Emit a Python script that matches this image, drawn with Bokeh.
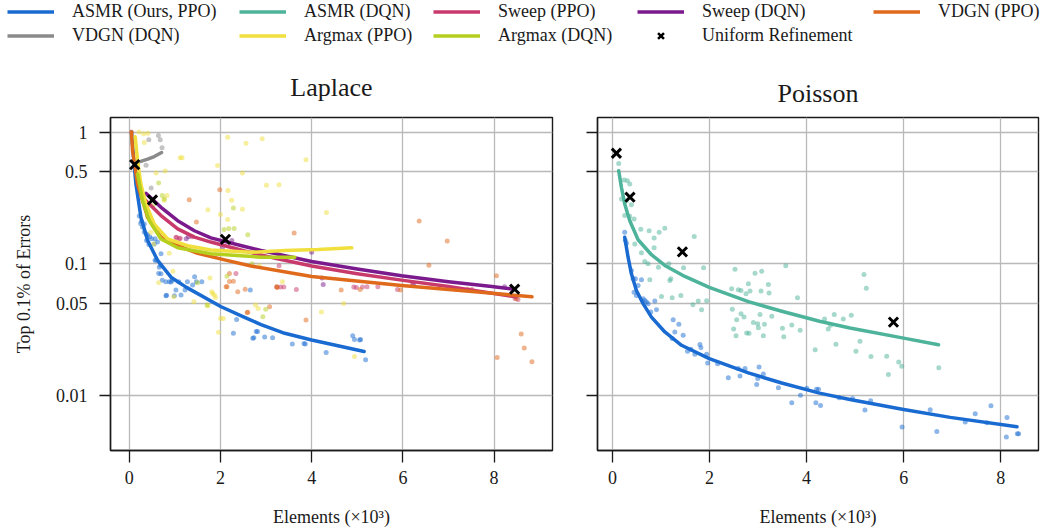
from bokeh.plotting import figure
from bokeh.models import FixedTicker, CustomJSTickFormatter, Legend, LegendItem, Range1d, Label
from bokeh.layouts import column, row
from bokeh.embed import file_html
from bokeh.resources import INLINE

FONT = "Liberation Serif"
NAN = float("nan")

# ---------------- colours ----------------
C_ASMR_PPO = "#1a6bd1"
C_ASMR_DQN = "#4db39a"
C_SWEEP_PPO = "#c83a6c"
C_SWEEP_DQN = "#7a1a8c"
C_VDGN_PPO = "#e06a1c"
C_VDGN_DQN = "#8a8a8a"
C_ARGMAX_PPO = "#f0df3c"
C_ARGMAX_DQN = "#b5cf1e"

# ---------------- axis ticks / titles ----------------
x_ticks = [0, 2, 4, 6, 8]
y_ticks = [0.01, 0.05, 0.1, 0.5, 1]
panel_titles = ["Laplace", "Poisson"]

# ================= Laplace =================
# fitted curves
lap_asmr_ppo_x = [0.05, 0.096, 0.147, 0.257, 0.404, 0.623, 0.916, 1.246, 2.015, 2.53, 2.89, 3.41, 4.0, 5.15]
lap_asmr_ppo_y = [1.0, 0.641, 0.403, 0.225, 0.150, 0.106, 0.079, 0.0664, 0.0471, 0.0391, 0.0345, 0.0296, 0.0263, 0.0215]
lap_sweep_ppo_x = [0.33, 0.697, 1.063, 1.43, 1.79, 2.53, 3.2, 4.0, 5.0, 5.97, 7.0, 8.48]
lap_sweep_ppo_y = [0.31, 0.232, 0.184, 0.159, 0.146, 0.125, 0.11, 0.096, 0.084, 0.075, 0.067, 0.056]
lap_sweep_dqn_x = [0.367, 0.697, 1.063, 1.43, 1.79, 2.53, 2.89, 4.0, 5.0, 5.97, 7.0, 7.95, 8.45]
lap_sweep_dqn_y = [0.342, 0.268, 0.212, 0.178, 0.157, 0.135, 0.126, 0.104, 0.091, 0.081, 0.073, 0.067, 0.064]
lap_vdgn_ppo_x = [0.05, 0.074, 0.184, 0.404, 0.697, 1.063, 1.5, 2.09, 2.67, 4.0, 5.97, 8.83]
lap_vdgn_ppo_y = [1.0, 0.72, 0.40, 0.225, 0.159, 0.137, 0.12, 0.107, 0.096, 0.08, 0.0684, 0.0561]
lap_vdgn_dqn_x = [0.125, 0.22, 0.404, 0.55, 0.711]
lap_vdgn_dqn_y = [0.570, 0.594, 0.623, 0.652, 0.699]
lap_argmax_ppo_x = [0.132, 0.184, 0.257, 0.367, 0.55, 0.843, 1.28, 1.79, 2.67, 3.41, 4.14, 4.88]
lap_argmax_ppo_y = [0.92, 0.6, 0.40, 0.284, 0.2, 0.154, 0.137, 0.127, 0.122, 0.126, 0.128, 0.132]
lap_argmax_dqn_x = [0.184, 0.293, 0.44, 0.697, 1.063, 1.79, 2.89, 3.63]
lap_argmax_dqn_y = [0.48, 0.301, 0.212, 0.154, 0.132, 0.119, 0.112, 0.112]
# uniform refinement
lap_uniform_x = [0.12, 0.51, 2.11, 8.45]
lap_uniform_y = [0.566, 0.305, 0.153, 0.064]

# individual runs (scatter)
lap_pts_asmr_ppo_x = [0.22, 0.252, 0.27, 0.292, 0.331, 0.33, 0.371, 0.40, 0.45, 0.489, 0.567, 0.622, 0.38, 0.43,
                      0.55, 0.697, 0.567, 0.587, 0.686, 0.66, 0.646, 0.697, 0.725, 0.804, 0.882, 0.916, 0.945,
                      1.024, 0.819, 0.806, 0.99, 1.087, 1.136, 1.224, 1.276, 1.39, 1.434, 1.473, 1.592,
                      2.284, 2.355, 2.655, 2.71, 2.734, 2.785, 2.813, 2.970, 3.143, 3.576, 3.832, 3.860,
                      4.317, 4.900, 4.939, 5.05, 5.073, 5.183]
lap_pts_asmr_ppo_y = [0.23, 0.202, 0.21, 0.190, 0.174, 0.2, 0.169, 0.165, 0.16, 0.155, 0.155, 0.146, 0.15, 0.14,
                      0.141, 0.119, 0.106, 0.106, 0.0975, 0.094, 0.0843, 0.0838, 0.075, 0.0728, 0.0728, 0.0725, 0.075,
                      0.063, 0.0577, 0.057, 0.057, 0.0728, 0.0578, 0.063, 0.0728, 0.069, 0.0795, 0.0728, 0.0728,
                      0.0296, 0.0377, 0.063, 0.0271, 0.0274, 0.0305, 0.0305, 0.0277, 0.0274, 0.0245, 0.0248, 0.0245,
                      0.0212, 0.0284, 0.0266, 0.0263, 0.0266, 0.0186]
lap_pts_sweep_ppo_x = [1.026, 1.04, 1.10, 1.118, 1.379, 2.340, 3.238, 3.285, 3.319, 3.39, 3.664, 4.924, 4.979,
                       5.114, 5.215, 5.451, 5.883, 6.206, 7.18, 7.51, 8.46, 8.523]
lap_pts_sweep_ppo_y = [0.159, 0.158, 0.155, 0.156, 0.160, 0.0843, 0.0666, 0.0963, 0.0666, 0.0666, 0.0637, 0.0666,
                       0.066, 0.0666, 0.0668, 0.0668, 0.0637, 0.07, 0.0637, 0.0637, 0.0545, 0.0535]
lap_pts_sweep_dqn_x = [1.25, 1.3, 2.048, 2.25, 4.0, 4.228, 4.253, 6.239, 8.228]
lap_pts_sweep_dqn_y = [0.155, 0.16, 0.134, 0.15, 0.122, 0.0777, 0.0695, 0.0708, 0.0667]
lap_pts_vdgn_ppo_x = [0.05, 1.316, 1.473, 1.985, 2.125, 2.143, 2.198, 2.198, 2.284, 2.38, 2.543, 2.587, 2.599,
                      3.078, 3.232, 3.245, 3.616, 3.876, 4.647, 5.063, 5.948, 6.357, 6.570, 6.972, 7.42, 8.051,
                      8.067, 8.484, 8.594, 8.66, 8.829]
lap_pts_vdgn_ppo_y = [1.0, 0.306, 0.207, 0.365, 0.0667, 0.0668, 0.0843, 0.0733, 0.0737, 0.0612, 0.064, 0.0425, 0.0427,
                      0.0471, 0.0667, 0.066, 0.171, 0.0373, 0.063, 0.0637, 0.063, 0.211, 0.0975, 0.149, 0.064, 0.0809,
                      0.0194, 0.0545, 0.0292, 0.0229, 0.018]
lap_pts_vdgn_dqn_x = [0.37, 0.43, 0.48, 0.64, 0.68, 0.72]
lap_pts_vdgn_dqn_y = [0.56, 0.875, 0.376, 0.94, 0.875, 0.76]
lap_pts_argmax_ppo_x = [0.213, 0.315, 0.33, 0.410, 0.477, 0.536, 0.591, 0.646, 0.764, 0.788, 0.827, 0.88, 0.96,
                        0.977, 1.119, 1.158, 1.418, 1.725, 1.725, 1.77, 1.81, 1.828, 1.869, 1.891, 1.938, 1.957,
                        2.001, 2.001, 2.064, 2.159, 2.159, 2.167, 2.246, 2.482, 2.482, 2.560, 2.734, 2.77,
                        2.828, 2.852, 2.915, 3.009, 3.285, 3.36, 3.876, 4.214, 4.325, 4.702, 4.939]
lap_pts_argmax_ppo_y = [1.0, 0.969, 0.833, 0.98, 0.173, 0.141, 0.488, 0.0716, 0.303, 0.505, 0.330, 0.12, 0.0877,
                        0.0561, 0.637, 0.637, 0.0514, 0.257, 0.0477, 0.078, 0.0612, 0.0594, 0.0578, 0.0554, 0.557, 0.0301,
                        0.236, 0.0384, 0.0384, 0.914, 0.217, 0.360, 0.303, 0.488, 0.259, 0.823, 0.123, 0.0485,
                        0.0457, 0.0964, 0.888, 0.394, 0.398, 0.0728, 0.615, 0.0429, 0.245, 0.0499, 0.0197]
lap_pts_argmax_dqn_x = [0.410, 0.513, 0.646, 0.725, 0.77, 1.497, 1.707, 2.080, 2.143, 2.182, 2.284, 2.300, 2.599,
                        2.694, 2.93, 2.993]
lap_pts_argmax_dqn_y = [0.226, 0.276, 0.41, 0.33, 0.31, 0.0716, 0.0485, 0.182, 0.0804, 0.185, 0.265, 0.185, 0.166,
                        0.1, 0.0395, 0.045]

# ================= Poisson =================
poi_asmr_ppo_x = [0.251, 0.32, 0.389, 0.492, 0.630, 0.802, 1.078, 1.422, 1.994, 2.80, 3.488, 4.266, 4.893, 6.0, 6.96, 8.337]
poi_asmr_ppo_y = [0.159, 0.112, 0.0838, 0.0626, 0.0497, 0.0393, 0.0303, 0.024, 0.019, 0.0148, 0.0124, 0.0104,
                  0.0093, 0.0078, 0.0068, 0.00577]
poi_asmr_dqn_x = [0.127, 0.183, 0.251, 0.355, 0.527, 0.802, 1.078, 1.49, 1.994, 2.80, 3.488, 4.266, 4.893, 6.0, 6.719]
poi_asmr_dqn_y = [0.508, 0.38, 0.284, 0.212, 0.152, 0.117, 0.097, 0.080, 0.066, 0.0515, 0.0435, 0.0365, 0.0325,
                  0.0272, 0.0242]
poi_uniform_x = [0.08, 0.36, 1.44, 5.79]
poi_uniform_y = [0.69, 0.32, 0.123, 0.036]

poi_pts_asmr_dqn_x = [0.127, 0.238, 0.306, 0.355, 0.183, 0.286, 0.389, 0.251, 0.355, 0.444, 0.582, 0.754, 0.857,
                      0.961, 1.078, 0.458, 0.596, 0.665, 0.733, 0.857, 0.947, 1.160, 1.181, 1.202, 0.768, 1.009,
                      1.229, 1.408, 1.464, 1.684, 1.877, 1.766, 1.939, 1.656, 1.835, 2.524, 2.455, 2.593, 2.648,
                      2.751, 2.800, 2.834, 2.937, 3.075, 3.061, 3.213, 3.226, 3.571, 3.812, 2.469, 2.558, 2.648,
                      2.710, 2.903, 2.992, 3.040, 3.130, 3.006, 2.496, 2.545, 2.765, 2.813, 3.109, 3.282, 3.502,
                      3.530, 3.695, 3.867, 4.177, 5.183, 5.231, 4.370, 4.570, 4.756, 4.921, 4.494, 4.446, 4.604,
                      5.100, 5.017, 5.327, 5.651, 5.899, 5.961, 5.686, 6.725]
poi_pts_asmr_dqn_y = [0.577, 0.432, 0.427, 0.403, 0.310, 0.301, 0.281, 0.232, 0.229, 0.219, 0.183, 0.178, 0.157,
                      0.173, 0.186, 0.141, 0.121, 0.104, 0.0997, 0.132, 0.0941, 0.0997, 0.0746, 0.0768, 0.0755, 0.0564,
                      0.0551, 0.0574, 0.0931, 0.161, 0.0931, 0.0520, 0.0523, 0.0488, 0.0447, 0.0908, 0.0645, 0.0634, 0.0626,
                      0.0591, 0.0703, 0.0619, 0.0847, 0.0877, 0.0619, 0.0695, 0.0598, 0.0963, 0.0551, 0.0450, 0.0375, 0.0417,
                      0.0393, 0.0358, 0.0350, 0.0412, 0.0346, 0.0326, 0.0319, 0.0284, 0.0297, 0.0296, 0.0284, 0.0398, 0.0323,
                      0.0279, 0.0342, 0.0312, 0.0222, 0.0828, 0.0652, 0.0380, 0.0412, 0.0380, 0.0405, 0.0340, 0.0319, 0.0244,
                      0.0257, 0.0216, 0.0197, 0.0198, 0.0179, 0.0166, 0.0144, 0.0162]
poi_pts_asmr_ppo_x = [0.251, 0.264, 0.286, 0.389, 0.424, 0.444, 0.472, 0.492, 0.527, 0.596, 0.630, 0.665, 0.699,
                      0.733, 0.788, 0.871, 0.906, 1.250, 1.367, 1.284, 1.229, 1.456, 1.546, 1.615, 1.697, 1.801,
                      1.822, 1.939, 1.960, 2.166, 2.386, 2.593, 2.731, 2.627, 3.020, 3.109, 2.971, 2.992, 3.419,
                      3.695, 3.874, 4.005, 4.191, 4.246, 4.205, 4.287, 4.673, 4.948, 5.203, 5.320, 5.968, 6.547,
                      6.684, 7.270, 7.476, 7.717, 7.800, 8.131, 8.117, 8.344, 8.37]
poi_pts_asmr_ppo_y = [0.173, 0.150, 0.143, 0.0887, 0.0768, 0.0608, 0.0768, 0.0574, 0.0684, 0.0755, 0.0542, 0.0526, 0.0511,
                      0.0497, 0.0429, 0.0520, 0.0447, 0.0375, 0.0346, 0.0303, 0.0270, 0.0286, 0.0216, 0.0224, 0.0205, 0.0243,
                      0.0230, 0.0205, 0.0176, 0.0174, 0.0136, 0.0160, 0.0160, 0.0140, 0.0164, 0.0145, 0.0121, 0.0134, 0.0114,
                      0.00877, 0.0100, 0.0113, 0.00877, 0.0111, 0.0111, 0.00838, 0.00957, 0.00946, 0.00773, 0.0091, 0.00574, 0.00777,
                      0.00532, 0.00627, 0.00725, 0.0062, 0.00832, 0.00679, 0.00482, 0.00511, 0.0051]

# ================= panels =================
HEAD_H = 107   # legend + titles strip


def style_panel(p, show_labels):
    p.outline_line_color = "#1a1a1a"
    p.outline_line_width = 1.4
    for ax in (p.xaxis[0], p.yaxis[0]):
        ax.axis_line_color = "#1a1a1a"
        ax.axis_line_width = 1.4
        ax.major_tick_line_color = "#1a1a1a"
        ax.major_tick_line_width = 1.3
        ax.major_tick_in = 0
        ax.minor_tick_line_color = None
        ax.major_label_text_font = FONT
        ax.major_label_text_font_size = "18px"
        ax.major_label_text_color = "#1a1a1a"
        ax.axis_label_text_font = FONT
        ax.axis_label_text_font_size = "18px"
        ax.axis_label_text_font_style = "normal"
        ax.axis_label_text_color = "#1a1a1a"
    p.xaxis.ticker = FixedTicker(ticks=x_ticks)
    p.yaxis.ticker = FixedTicker(ticks=y_ticks)
    p.xgrid.ticker = FixedTicker(ticks=x_ticks)
    p.ygrid.ticker = FixedTicker(ticks=y_ticks)
    p.xaxis.major_tick_out = 12
    p.yaxis.major_tick_out = 11
    p.xaxis.major_label_standoff = 8
    p.yaxis.major_label_standoff = 12
    p.xaxis.axis_label = "Elements (×10³)"
    p.xaxis.axis_label_standoff = 20
    p.xaxis.formatter = CustomJSTickFormatter(code="return tick.toString();")
    if show_labels:
        p.yaxis.formatter = CustomJSTickFormatter(code="return tick.toString();")
        p.yaxis.axis_label = "Top 0.1% of Errors"
        p.yaxis.axis_label_standoff = 19
    else:
        p.yaxis.formatter = CustomJSTickFormatter(code="return '';")
    for g in (p.xgrid[0], p.ygrid[0]):
        g.grid_line_color = "#b9b9b9"
        g.grid_line_width = 1.3


Y_RANGE = (0.00381, 1.29)

p1 = figure(width=575, height=422, y_axis_type="log", x_range=Range1d(-0.41, 9.28),
            y_range=Range1d(*Y_RANGE), toolbar_location=None, output_backend="svg", title=None,
            min_border_left=110, min_border_right=23, min_border_top=10, min_border_bottom=78)
style_panel(p1, True)

p2 = figure(width=468, height=422, y_axis_type="log", x_range=Range1d(-0.31, 8.78),
            y_range=Range1d(*Y_RANGE), toolbar_location=None, output_backend="svg", title=None,
            min_border_left=22, min_border_right=5, min_border_top=10, min_border_bottom=78)
style_panel(p2, False)

SZ = 5
AL = 0.5
# Laplace scatter
for xs, ys, c in [
    (lap_pts_asmr_ppo_x, lap_pts_asmr_ppo_y, C_ASMR_PPO),
    (lap_pts_sweep_ppo_x, lap_pts_sweep_ppo_y, C_SWEEP_PPO),
    (lap_pts_sweep_dqn_x, lap_pts_sweep_dqn_y, C_SWEEP_DQN),
    (lap_pts_vdgn_ppo_x, lap_pts_vdgn_ppo_y, C_VDGN_PPO),
    (lap_pts_vdgn_dqn_x, lap_pts_vdgn_dqn_y, C_VDGN_DQN),
    (lap_pts_argmax_ppo_x, lap_pts_argmax_ppo_y, C_ARGMAX_PPO),
    (lap_pts_argmax_dqn_x, lap_pts_argmax_dqn_y, C_ARGMAX_DQN),
]:
    p1.scatter(xs, ys, size=SZ, fill_color=c, fill_alpha=AL, line_color=None)

LW = 3.5
for xs, ys, c in [
    (lap_asmr_ppo_x, lap_asmr_ppo_y, C_ASMR_PPO),
    (lap_sweep_ppo_x, lap_sweep_ppo_y, C_SWEEP_PPO),
    (lap_sweep_dqn_x, lap_sweep_dqn_y, C_SWEEP_DQN),
    (lap_vdgn_ppo_x, lap_vdgn_ppo_y, C_VDGN_PPO),
    (lap_vdgn_dqn_x, lap_vdgn_dqn_y, C_VDGN_DQN),
    (lap_argmax_ppo_x, lap_argmax_ppo_y, C_ARGMAX_PPO),
    (lap_argmax_dqn_x, lap_argmax_dqn_y, C_ARGMAX_DQN),
]:
    p1.line(xs, ys, line_color=c, line_width=LW, line_join="round", line_cap="round")

p1.scatter(lap_uniform_x, lap_uniform_y, marker="x", size=13, line_color="black", line_width=3)

# Poisson
p2.scatter(poi_pts_asmr_ppo_x, poi_pts_asmr_ppo_y, size=SZ, fill_color=C_ASMR_PPO, fill_alpha=AL, line_color=None)
p2.scatter(poi_pts_asmr_dqn_x, poi_pts_asmr_dqn_y, size=SZ, fill_color=C_ASMR_DQN, fill_alpha=AL, line_color=None)
p2.line(poi_asmr_ppo_x, poi_asmr_ppo_y, line_color=C_ASMR_PPO, line_width=LW, line_join="round", line_cap="round")
p2.line(poi_asmr_dqn_x, poi_asmr_dqn_y, line_color=C_ASMR_DQN, line_width=LW, line_join="round", line_cap="round")
p2.scatter(poi_uniform_x, poi_uniform_y, marker="x", size=13, line_color="black", line_width=3)

# ================= head strip: legend + panel titles =================
head = figure(width=1043, height=HEAD_H, toolbar_location=None, output_backend="svg",
              x_axis_type=None, y_axis_type=None, x_range=Range1d(0, 1), y_range=Range1d(0, 1),
              min_border=0, title=None)
head.outline_line_color = None
head.grid.visible = False

# panel titles, centred above each frame (frame centres at x=331 and x=817.5)
for t, cx, base in zip(panel_titles, [331, 817.5], [87, 93]):
    head.add_layout(Label(x=cx, y=HEAD_H - base, x_units="screen", y_units="screen", text=t,
                          text_align="center", text_baseline="alphabetic", text_font=FONT,
                          text_font_size="26px", text_color="#1a1a1a"))

def dummy_line(c):
    return head.line([NAN], [NAN], line_color=c, line_width=LW)

r_asmr_ppo = dummy_line(C_ASMR_PPO)
r_asmr_dqn = dummy_line(C_ASMR_DQN)
r_sweep_ppo = dummy_line(C_SWEEP_PPO)
r_sweep_dqn = dummy_line(C_SWEEP_DQN)
r_vdgn_ppo = dummy_line(C_VDGN_PPO)
r_vdgn_dqn = dummy_line(C_VDGN_DQN)
r_argmax_ppo = dummy_line(C_ARGMAX_PPO)
r_argmax_dqn = dummy_line(C_ARGMAX_DQN)
r_uniform = head.scatter([NAN], [NAN], marker="x", size=9, line_color="black", line_width=2.5)

legend_columns = [
    (7, [("ASMR (Ours, PPO)", r_asmr_ppo), ("VDGN (DQN)", r_vdgn_dqn)]),
    (239, [("ASMR (DQN)", r_asmr_dqn), ("Argmax (PPO)", r_argmax_ppo)]),
    (433, [("Sweep (PPO)", r_sweep_ppo), ("Argmax (DQN)", r_argmax_dqn)]),
    (637, [("Sweep (DQN)", r_sweep_dqn), ("Uniform Refinement", r_uniform)]),
    (873, [("VDGN (PPO)", r_vdgn_ppo)]),
]
for x0, items in legend_columns:
    n = len(items)
    ybottom = HEAD_H - (45.5 if n == 2 else 21.5)
    lg = Legend(items=[LegendItem(label=t, renderers=[r]) for t, r in items],
                location=(x0, ybottom), orientation="vertical", padding=0, margin=0, spacing=3,
                glyph_width=47, glyph_height=21, label_height=21, label_standoff=18,
                label_text_font=FONT, label_text_font_size="18px", label_text_color="#1a1a1a",
                border_line_color=None, background_fill_alpha=0)
    head.add_layout(lg)

layout = column(head, row(p1, p2, spacing=0), spacing=0)
open("out.html", "w").write(file_html(layout, INLINE))
